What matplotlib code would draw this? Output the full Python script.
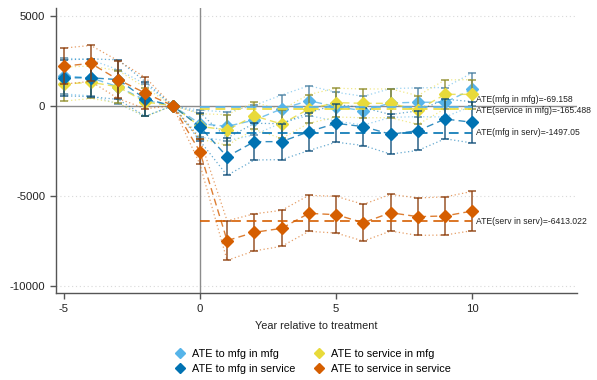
import matplotlib
matplotlib.use("Agg")
import matplotlib.pyplot as plt
from matplotlib.lines import Line2D
import numpy as np

plt.rcParams['font.family'] = ['Liberation Sans', 'DejaVu Sans']
plt.rcParams['axes.unicode_minus'] = False

years = [-5, -4, -3, -2, -1, 0, 1, 2, 3, 4, 5, 6, 7, 8, 9, 10]

mfg_in_mfg = [1650, 1550, 1050, 300, 0, -1000, -1150, -800, -180, 280, -55, -280, 150, 190, 190, 910]
mfg_in_mfg_ci = [1000, 1000, 950, 900, 0, 750, 800, 820, 770, 830, 800, 800, 800, 800, 820, 920]

svc_in_mfg = [1200, 1300, 1050, 200, 0, -1150, -1350, -570, -1020, -180, 170, 130, 130, -240, 630, 630]
svc_in_mfg_ci = [950, 900, 900, 800, 0, 700, 850, 750, 800, 800, 800, 800, 800, 800, 800, 820]

mfg_in_svc = [1550, 1550, 1450, 370, 0, -1170, -2835, -2000, -2000, -1445, -980, -1165, -1590, -1390, -740, -925]
mfg_in_svc_ci = [1000, 1050, 1100, 960, 0, 780, 1040, 1020, 1000, 1050, 1050, 1050, 1100, 1100, 1100, 1150]

svc_in_svc = [2200, 2350, 1450, 700, 0, -2550, -7500, -7040, -6820, -5985, -6060, -6505, -5950, -6170, -6130, -5855]
svc_in_svc_ci = [1000, 1000, 1050, 870, 0, 700, 1100, 1030, 1000, 1000, 1020, 1020, 1020, 1040, 1060, 1090]

ate_labels = ["ATE(mfg in mfg)=-69.158", "ATE(service in mfg)=-165.488",
              "ATE(mfg in serv)=-1497.05", "ATE(serv in serv)=-6413.022"]
ate_values = [-69.158, -165.488, -1497.05, -6413.022]

legend_labels = ["ATE to mfg in mfg", "ATE to mfg in service",
                 "ATE to service in mfg", "ATE to service in service"]

colors = {"mm": "#56B4E9", "sm": "#E8DA3A", "ms": "#0072B2", "ss": "#D55E00"}
dark = {"mm": "#4a7f9f", "sm": "#8c8a2a", "ms": "#0b4a75", "ss": "#8a3a08"}

fig = plt.figure(figsize=(5.97, 3.8), dpi=100)
ax = fig.add_axes([55.7/597, 1-293.3/380, (577-55.7)/597, (293.3-8)/380])

ax.set_xlim(-5.29, 13.84)
ax.set_ylim(-10430, 5430)

for yv in [5000, -5000, -10000]:
    ax.axhline(yv, color="#d9d9d9", lw=0.8, ls=(0, (1, 2.5)), zorder=0)
ax.axhline(0, color="#8c8c8c", lw=1.0, zorder=1)
ax.axvline(0, color="#8c8c8c", lw=1.0, zorder=1)

x = np.array(years)
series = [("mm", mfg_in_mfg, mfg_in_mfg_ci), ("sm", svc_in_mfg, svc_in_mfg_ci),
          ("ms", mfg_in_svc, mfg_in_svc_ci), ("ss", svc_in_svc, svc_in_svc_ci)]

for i, (k, vals, ci) in enumerate(series):
    v = np.array(vals, dtype=float)
    c = np.array(ci, dtype=float)
    lo, hi = v - c, v + c
    z = 2 + i
    ax.plot(x, hi, color=colors[k], lw=0.9, ls=(0, (1, 2)), alpha=0.6, zorder=z)
    ax.plot(x, lo, color=colors[k], lw=0.9, ls=(0, (1, 2)), alpha=0.6, zorder=z)
    ax.plot(x, v, color=colors[k], lw=1.0, ls=(0, (5, 3)), alpha=0.8, zorder=z)
    mask = c > 0
    ax.errorbar(x[mask], v[mask], yerr=c[mask], fmt="none", ecolor=dark[k],
                elinewidth=1.2, capsize=3.2, capthick=1.2, alpha=0.8, zorder=z)
    ax.plot(x, v, ls="none", marker="D", ms=5.8, color=colors[k], mec=colors[k], zorder=z + 0.5)

ate_keys = ["mm", "sm", "ms", "ss"]
offsets = [5, -1, 0, 0]
for k, val, lab, off in zip(ate_keys, ate_values, ate_labels, offsets):
    ax.plot([0, 10], [val, val], color=colors[k], lw=1.4, ls=(0, (5, 3)), alpha=0.85, zorder=6)
    ax.annotate(lab, xy=(10.15, val), xytext=(0, off), textcoords="offset points",
                fontsize=6.2, color="#222222", va="center", ha="left",
                annotation_clip=False, zorder=7)

for side in ["top", "right"]:
    ax.spines[side].set_visible(False)
for side in ["left", "bottom"]:
    ax.spines[side].set_color("#555555")
    ax.spines[side].set_linewidth(1.0)

ax.set_xticks([-5, 0, 5, 10])
ax.set_yticks([5000, 0, -5000, -10000])
ax.set_yticklabels(["5000", "0", "-5000", "-10000"])
ax.tick_params(axis="both", labelsize=8.2, color="#555555", length=4, width=1.0, labelcolor="#222222")
ax.set_xlabel("Year relative to treatment", fontsize=7.8, color="#222222", labelpad=5)

handles = [Line2D([], [], ls="none", marker="D", ms=5, color=colors[k]) for k in ["mm", "ms", "sm", "ss"]]
fig.legend(handles, legend_labels, ncol=2, loc="upper center", bbox_to_anchor=(312/597, 1-339/380),
           frameon=False, fontsize=7.8, handletextpad=0.5, columnspacing=1.6,
           labelspacing=0.45, handlelength=1.2)

fig.savefig("out.png", dpi=100)
